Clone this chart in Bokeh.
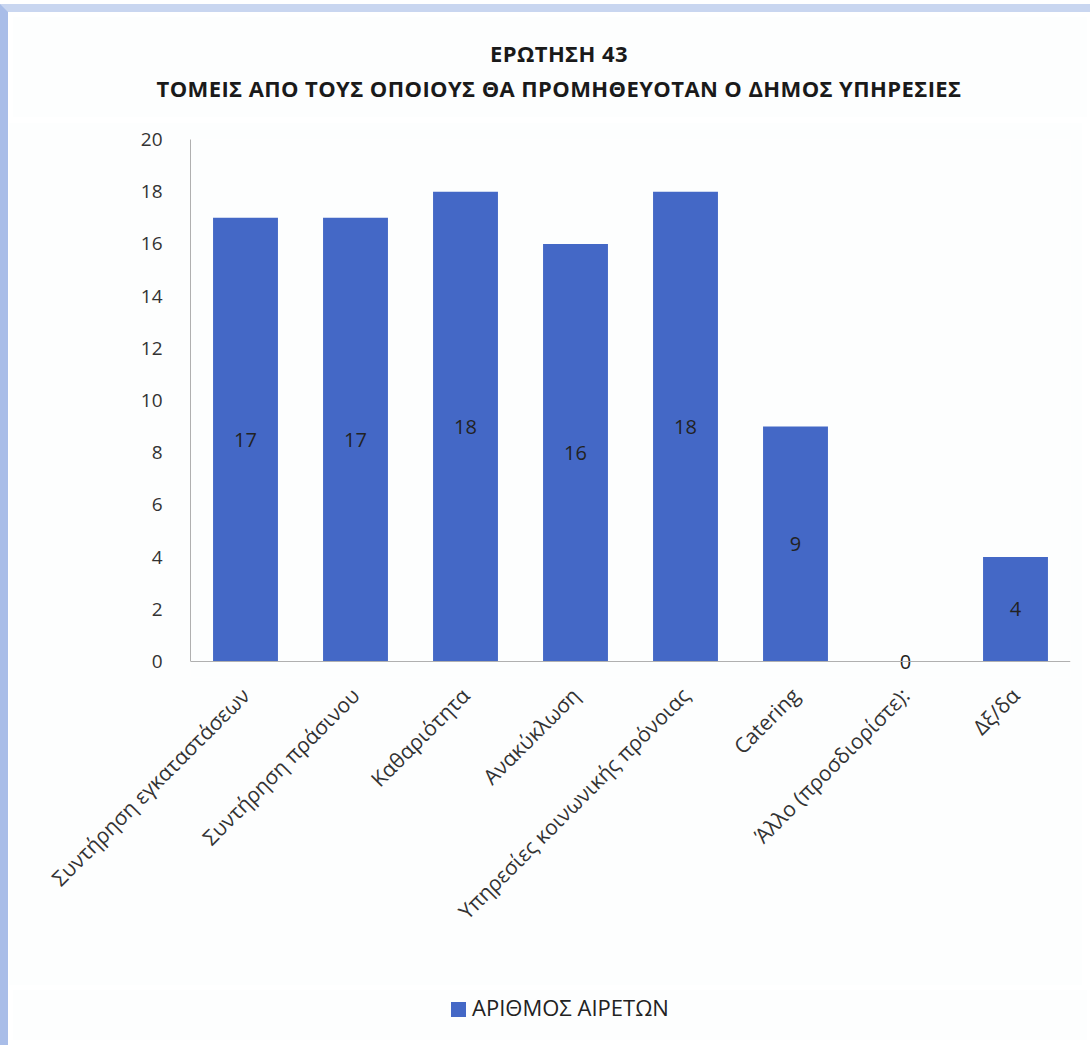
from bokeh.plotting import figure
from bokeh.models import ColumnDataSource, LabelSet, Range1d, FixedTicker, Span, Div
from bokeh.core.properties import value
from bokeh.layouts import column
from bokeh.embed import file_html
from bokeh.resources import INLINE
from math import pi

categories = ["Συντήρηση εγκαταστάσεων", "Συντήρηση πράσινου", "Καθαριότητα", "Ανακύκλωση",
              "Υπηρεσίες κοινωνικής πρόνοιας", "Catering", "Άλλο (προσδιορίστε):", "Δξ/δα"]
values = [17, 17, 18, 16, 18, 9, 0, 4]
y_ticks = [0, 2, 4, 6, 8, 10, 12, 14, 16, 18, 20]
title_lines = ["ΕΡΩΤΗΣΗ 43", "ΤΟΜΕΙΣ ΑΠΟ ΤΟΥΣ ΟΠΟΙΟΥΣ ΘΑ ΠΡΟΜΗΘΕΥΟΤΑΝ Ο ΔΗΜΟΣ ΥΠΗΡΕΣΙΕΣ"]
series_name = "ΑΡΙΘΜΟΣ ΑΙΡΕΤΩΝ"

FONT = "Open Sans"
BLUE = "#4468c6"
BG = "#fdfefe"

src = ColumnDataSource(dict(cat=categories, val=values,
                            mid=[v / 2 for v in values],
                            lab=[str(v) for v in values]))

title_div = Div(
    text="<div>" + title_lines[0] + "</div><div>" + title_lines[1] + "</div>",
    width=1074, height=100,
    styles={"text-align": "center", "font-family": FONT, "font-weight": "bold",
            "font-size": "22px", "letter-spacing": "0.4px", "line-height": "35px",
            "color": "#1a1a1a", "padding-top": "19px", "padding-left": "18px",
            "box-sizing": "border-box", "background-color": BG})

p = figure(x_range=categories, y_range=Range1d(-0.613, 20), width=1074, height=863,
           output_backend="svg", toolbar_location=None,
           min_border_left=182, min_border_right=12, min_border_top=17, min_border_bottom=308)
p.background_fill_color = BG
p.border_fill_color = BG
p.outline_line_color = None

r = p.vbar(x="cat", top="val", width=0.59, source=src, fill_color=BLUE, line_color=None)

labels = LabelSet(x="cat", y="mid", text="lab", source=src, text_align="center",
                  text_baseline="middle", text_font=value(FONT), text_font_size="20px",
                  text_color="#222222")
p.add_layout(labels)

p.add_layout(Span(location=0, dimension="width", line_color="#b0b0b0", line_width=1.2))

p.xgrid.grid_line_color = None
p.ygrid.grid_line_color = None
p.yaxis.ticker = FixedTicker(ticks=y_ticks)
p.yaxis.bounds = (0, 20)
for ax in (p.xaxis, p.yaxis):
    ax.major_tick_line_color = None
    ax.minor_tick_line_color = None
    ax.axis_line_color = "#b0b0b0"
    ax.major_label_text_font = FONT
    ax.major_label_text_color = "#333333"
p.yaxis.major_label_text_font_size = "19px"
p.xaxis.major_label_text_font_size = "21px"
p.xaxis.axis_line_color = None
p.yaxis.major_label_standoff = 22
p.xaxis.major_label_orientation = pi / 4
p.xaxis.major_label_standoff = 8

legend_div = Div(
    text='<span style="display:inline-block;width:15px;height:15px;background:' + BLUE +
         ';margin-right:6px;vertical-align:-1px"></span>' + series_name,
    width=1074, height=50,
    styles={"text-align": "center", "font-family": FONT, "font-size": "22px",
            "line-height": "26px", "color": "#222222", "padding-top": "4px",
            "padding-left": "20px", "box-sizing": "border-box", "background-color": BG})

layout = column(title_div, p, legend_div, spacing=0,
                styles={"border-left": "8px solid #a9bde8", "border-top": "8px solid #c9d6f0",
                        "margin-top": "4px"})

open("out.html", "w").write(file_html(layout, INLINE))
